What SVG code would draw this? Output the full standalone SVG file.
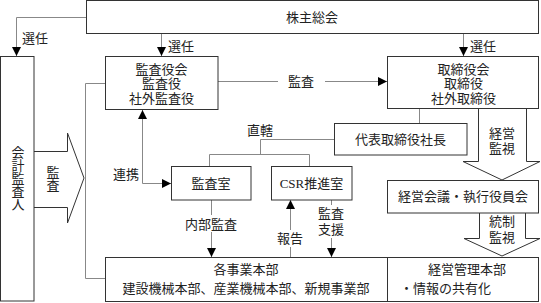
<svg xmlns="http://www.w3.org/2000/svg" width="541" height="303" viewBox="0 0 541 303">
<style>
.box{fill:#fff;stroke:#333;stroke-width:1}
.ln{fill:none;stroke:#888;stroke-width:1}
.blk{fill:none;stroke:#333;stroke-width:1}
text{font-family:"Liberation Serif","Noto Sans CJK JP",serif;font-size:13px;fill:#222;text-anchor:middle;dominant-baseline:central}
.vt{writing-mode:vertical-rl;text-orientation:upright}
</style>
<defs>
<marker id="ah" markerUnits="userSpaceOnUse" markerWidth="9" markerHeight="9" refX="9" refY="4.5" orient="auto-start-reverse" viewBox="0 0 9 9">
<path d="M0,0 L9,4.5 L0,9 z" fill="#000"/>
</marker>
</defs>
<g id="connectors">
<path class="ln" d="M86.5,17.5 H16.5 V56" marker-end="url(#ah)"/>
<path class="ln" d="M161.5,34 V56" marker-end="url(#ah)"/>
<path class="ln" d="M463.5,34 V56" marker-end="url(#ah)"/>
<path class="ln" d="M105,83.5 H85.5 V278.5 H105"/>
<path class="ln" d="M218,81.5 H278"/>
<path class="ln" d="M325,81.5 H387" marker-end="url(#ah)"/>
<path class="ln" d="M419.5,109 V123"/>
<path class="ln" d="M334,139.5 H260.5 V154.5"/>
<path class="ln" d="M209.5,166 V154.5 H309.5 V166"/>
<path class="ln" d="M171,183.5 H142.5 V110" marker-start="url(#ah)" marker-end="url(#ah)"/>
<path class="ln" d="M211.5,200 V215"/>
<path class="ln" d="M211.5,232 V257" marker-end="url(#ah)"/>
<path class="ln" d="M290.5,257 V247"/>
<path class="ln" d="M290.5,230 V200" marker-end="url(#ah)"/>
<path class="ln" d="M331.5,200 V205"/>
<path class="ln" d="M331.5,238 V257" marker-end="url(#ah)"/>
<path class="ln" d="M367,268.5 H408" marker-start="url(#ah)" marker-end="url(#ah)"/>
<polyline class="blk" points="478.5,109 478.5,161.5 463,161.5 502,180 540,161.5 526.5,161.5 526.5,109"/>
<polyline class="blk" points="479.5,213 479.5,238.5 464,238.5 502,256 540,238.5 525.5,238.5 525.5,213"/>
<polyline class="blk" points="34,151.5 67.5,151.5 67.5,133 84,178 67.5,223 67.5,207.5 34,207.5"/>
<text x="35" y="38">選任</text>
<text x="181" y="46">選任</text>
<text x="483" y="46">選任</text>
<text x="301" y="81">監査</text>
<text x="260" y="130">直轄</text>
<text x="126" y="174">連携</text>
<text x="211" y="224">内部監査</text>
<text x="290" y="238">報告</text>
<text x="331" y="213">監査</text>
<text x="331" y="229">支援</text>
<text x="502" y="133">経営</text>
<text x="502" y="148">監視</text>
<text x="502" y="221">統制</text>
<text x="502" y="237">監視</text>
<text class="vt" x="52" y="179">監査</text>
</g>
<g id="shareholders">
<rect class="box" x="86.5" y="0.5" width="452" height="33"/>
<text x="312" y="17">株主総会</text>
</g>
<g id="auditor">
<rect class="box" x="0.5" y="56.5" width="33.5" height="244.5"/>
<text class="vt" x="17" y="178">会計監査人</text>
</g>
<g id="kansayakukai">
<rect class="box" x="105.5" y="56.5" width="112.5" height="53"/>
<text x="161.5" y="69">監査役会</text>
<text x="161.5" y="83">監査役</text>
<text x="161.5" y="98">社外監査役</text>
</g>
<g id="torishimariyakukai">
<rect class="box" x="387.5" y="56.5" width="151" height="52"/>
<text x="463.5" y="69">取締役会</text>
<text x="463.5" y="83">取締役</text>
<text x="463.5" y="98">社外取締役</text>
</g>
<g id="president">
<rect class="box" x="334.5" y="123.5" width="132.5" height="31.5"/>
<text x="400.5" y="139">代表取締役社長</text>
</g>
<g id="kansashitsu">
<rect class="box" x="171.5" y="166.5" width="79.5" height="33.5"/>
<text x="211" y="183">監査室</text>
</g>
<g id="csr">
<rect class="box" x="271.5" y="166.5" width="80.5" height="33.5"/>
<text x="311.5" y="183">CSR推進室</text>
</g>
<g id="keieikaigi">
<rect class="box" x="387.5" y="180.5" width="151" height="32.5"/>
<text x="463" y="196">経営会議・執行役員会</text>
</g>
<g id="jigyohonbu">
<rect class="box" x="105.5" y="257.5" width="282" height="44"/>
<text x="246" y="269">各事業本部</text>
<text x="246" y="288">建設機械本部、産業機械本部、新規事業部</text>
</g>
<g id="keieikanri">
<rect class="box" x="387.5" y="257.5" width="151" height="44"/>
<text x="467" y="269">経営管理本部</text>
<text x="400" y="288" style="text-anchor:start">・情報の共有化</text>
</g>
</svg>
